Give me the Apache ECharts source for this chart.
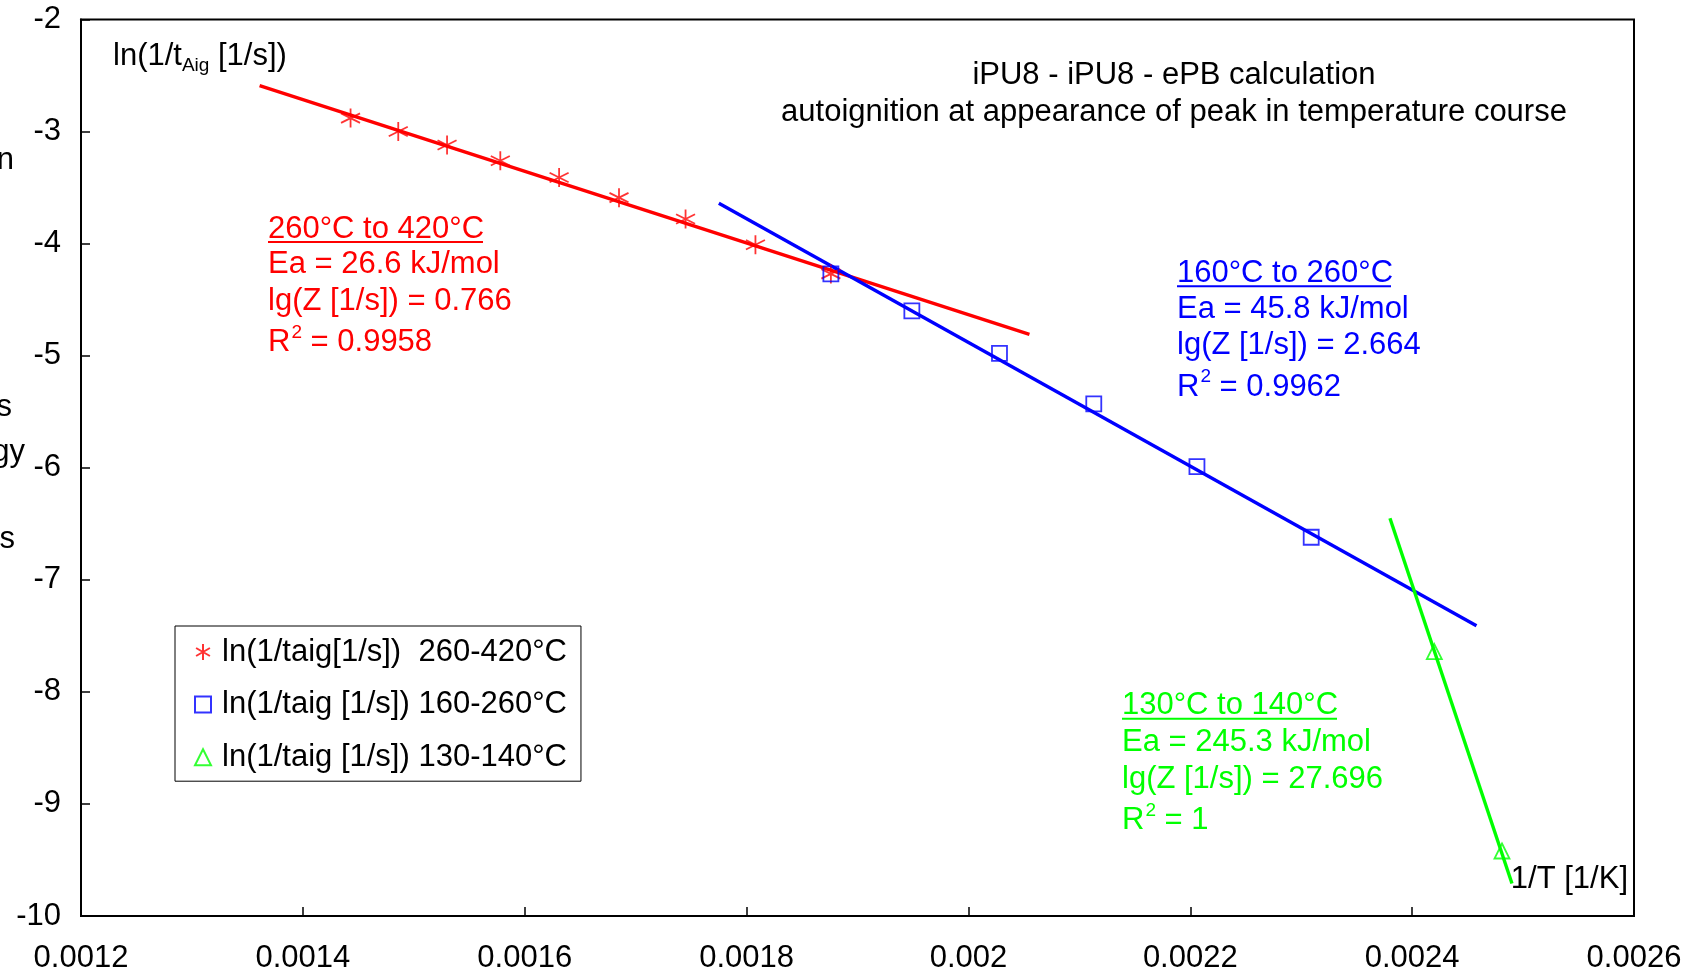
<!DOCTYPE html>
<html>
<head>
<meta charset="utf-8">
<script src="https://cdn.jsdelivr.net/npm/echarts@6/dist/echarts.min.js"></script>
<style>
html,body{margin:0;padding:0;background:#fff;}
#chart{width:1700px;height:975px;}
</style>
</head>
<body>
<div id="chart"></div>
<script>
// ---- data ----
const redX = [0.001443, 0.001486, 0.001530, 0.001578, 0.001631, 0.001685, 0.001745, 0.001808, 0.001876];
const redY = [-2.88, -3.00, -3.12, -3.26, -3.41, -3.59, -3.78, -4.01, -4.27];
const blueX = [0.001876, 0.001949, 0.002028, 0.002113, 0.002206, 0.002309];
const blueY = [-4.27, -4.60, -4.98, -5.43, -5.99, -6.62];
const greenX = [0.002420, 0.002481];
const greenY = [-7.64, -9.42];

// trend lines (end points)
const redFitX = [0.001361, 0.002055];
const redFitY = [-2.59, -4.81];
const blueFitX = [0.001775, 0.002458];
const blueFitY = [-3.64, -7.41];
const greenFitX = [0.002380, 0.002490];
const greenFitY = [-6.45, -9.71];

const seriesNames = ['ln(1/taig[1/s])  260-420°C', 'ln(1/taig [1/s]) 160-260°C', 'ln(1/taig [1/s]) 130-140°C'];
const xTickLabels = ['0.0012', '0.0014', '0.0016', '0.0018', '0.002', '0.0022', '0.0024', '0.0026'];
const yTickLabels = ['-10', '-9', '-8', '-7', '-6', '-5', '-4', '-3', '-2'];

const FONT = '"Liberation Sans", Arial, sans-serif';
const FS = 31;
const RED = '#ff0000', BLUE = '#0000ff', GREEN = '#00ff00';

const zip = (xs, ys) => xs.map((x, i) => [x, ys[i]]);
const asterisk = 'path://M0,-10 L0,10 M-8.66,-5 L8.66,5 M-8.66,5 L8.66,-5';

function rtxt(x, y, parts, color, align) {
  return {
    type: 'text', x: x, y: y, silent: true,
    style: {
      text: parts, fill: color, fontSize: FS, fontFamily: FONT,
      verticalAlign: 'middle', align: align || 'left',
      rich: {
        sup: { fontSize: 19, fontFamily: FONT, fill: color, padding: [0, 0, 20, 1] },
        sub: { fontSize: 19, fontFamily: FONT, fill: color, padding: [20, 0, 0, 0] },
        n: { fontSize: FS, fontFamily: FONT, fill: color }
      }
    }
  };
}
function uline(x1, x2, y, color) {
  return { type: 'line', silent: true, shape: { x1: x1, y1: y, x2: x2, y2: y }, style: { stroke: color, lineWidth: 2 } };
}
function annot(x, ys, lines, ulEnd, color) {
  return [
    rtxt(x, ys[0], '{n|' + lines[0] + '}', color),
    uline(x, ulEnd, ys[0] + 13, color),
    rtxt(x, ys[1], '{n|' + lines[1] + '}', color),
    rtxt(x, ys[2], '{n|' + lines[2] + '}', color),
    rtxt(x, ys[3], '{n|R}{sup|2}{n| = ' + lines[3] + '}', color)
  ];
}

const chart = echarts.init(document.getElementById('chart'));
const option = {
  animation: false,
  backgroundColor: '#fff',
  grid: { left: 81, right: 66, top: 19.5, bottom: 59, show: true, borderColor: '#000', borderWidth: 2, backgroundColor: 'transparent' },
  xAxis: {
    type: 'value', min: 0.0012, max: 0.0026, interval: 0.0002,
    axisLine: { show: true, lineStyle: { color: '#000', width: 2 } },
    axisTick: { show: true, inside: true, length: 9, lineStyle: { color: '#000', width: 1.5 } },
    splitLine: { show: false },
    axisLabel: {
      color: '#000', fontSize: FS, fontFamily: FONT, margin: 27,
      formatter: v => xTickLabels[Math.round((v - 0.0012) / 0.0002)]
    }
  },
  yAxis: {
    type: 'value', min: -10, max: -2, interval: 1,
    axisLine: { show: true, lineStyle: { color: '#000', width: 2 } },
    axisTick: { show: true, inside: true, length: 9, lineStyle: { color: '#000', width: 1.5 } },
    splitLine: { show: false },
    axisLabel: {
      color: '#000', fontSize: FS, fontFamily: FONT, margin: 20,
      formatter: v => yTickLabels[Math.round(v + 10)]
    }
  },
  legend: {
    data: seriesNames,
    orient: 'vertical', left: 175, top: 626,
    backgroundColor: '#fff', borderColor: '#000', borderWidth: 1,
    padding: [9, 14, 7, 19],
    itemGap: 18.6, itemWidth: 16, itemHeight: 16,
    textStyle: { color: '#000', fontSize: FS, fontFamily: FONT, lineHeight: 34, padding: [0, 0, 0, 6] }
  },
  series: [
    { type: 'line', data: zip(redFitX, redFitY), showSymbol: false, symbol: 'none', lineStyle: { color: RED, width: 3.4 }, z: 2, silent: true },
    { type: 'line', data: zip(blueFitX, blueFitY), showSymbol: false, symbol: 'none', lineStyle: { color: BLUE, width: 3.4 }, z: 2, silent: true },
    { type: 'line', data: zip(greenFitX, greenFitY), showSymbol: false, symbol: 'none', lineStyle: { color: GREEN, width: 3.4 }, z: 2, silent: true },
    { name: seriesNames[0], type: 'scatter', data: zip(redX, redY), symbol: asterisk, symbolSize: 19,
      itemStyle: { color: 'rgba(0,0,0,0)', borderColor: RED, borderWidth: 1.8 }, z: 3 },
    { name: seriesNames[1], type: 'scatter', data: zip(blueX, blueY), symbol: 'rect', symbolSize: 15,
      itemStyle: { color: 'rgba(0,0,0,0)', borderColor: BLUE, borderWidth: 1.8 }, z: 3 },
    { name: seriesNames[2], type: 'scatter', data: zip(greenX, greenY), symbol: 'triangle', symbolSize: 15,
      itemStyle: { color: 'rgba(0,0,0,0)', borderColor: GREEN, borderWidth: 1.8 }, z: 3 }
  ],
  graphic: [].concat(
    [
      rtxt(113, 56, '{n|ln(1/t}{sub|Aig}{n| [1/s])}', '#000'),
      rtxt(1628, 879, '{n|1/T [1/K]}', '#000', 'right'),
      rtxt(1174, 75, '{n|iPU8 - iPU8 - ePB calculation}', '#000', 'center'),
      rtxt(1174, 112, '{n|autoignition at appearance of peak in temperature course}', '#000', 'center'),
      rtxt(14, 160, '{n|n}', '#000', 'right'),
      rtxt(12, 407, '{n|s}', '#000', 'right'),
      rtxt(25, 452, '{n|gy}', '#000', 'right'),
      rtxt(15, 539, '{n|s}', '#000', 'right')
    ],
    annot(268, [229, 264.5, 301.4, 342.6], ['260°C to 420°C', 'Ea = 26.6 kJ/mol', 'lg(Z [1/s]) = 0.766', '0.9958'], 483, RED),
    annot(1177, [273.2, 309, 345.9, 387], ['160°C to 260°C', 'Ea = 45.8 kJ/mol', 'lg(Z [1/s]) = 2.664', '0.9962'], 1391, BLUE),
    annot(1122, [705.8, 742.7, 779.5, 820.7], ['130°C to 140°C', 'Ea = 245.3 kJ/mol', 'lg(Z [1/s]) = 27.696', '1'], 1337, GREEN)
  )
};
chart.setOption(option);
</script>
</body>
</html>
